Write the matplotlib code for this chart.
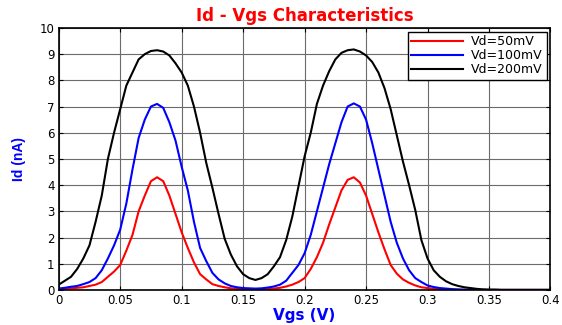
import matplotlib
matplotlib.use("Agg")
import matplotlib.pyplot as plt
import numpy as np

# Vgs sample grid (V), step 5 mV
vgs = np.round(np.arange(81) * 0.005, 3)

# Id (nA) for each drain voltage
id_50mv = [0.02, 0.04, 0.06, 0.08, 0.10, 0.15, 0.20, 0.30, 0.50, 0.70,
           0.95, 1.50, 2.10, 3.00, 3.60, 4.15, 4.30, 4.15, 3.60, 2.90,
           2.20, 1.60, 1.05, 0.60, 0.40, 0.22, 0.15, 0.10, 0.06, 0.04,
           0.03, 0.02, 0.02, 0.02, 0.03, 0.05, 0.08, 0.13, 0.20, 0.30,
           0.45, 0.80, 1.25, 1.80, 2.50, 3.15, 3.80, 4.20, 4.30, 4.10,
           3.60, 2.90, 2.20, 1.55, 0.95, 0.62, 0.40, 0.27, 0.17, 0.10,
           0.07, 0.04, 0.02, 0.01, 0, 0, 0, 0, 0, 0,
           0, 0, 0, 0, 0, 0, 0, 0, 0, 0,
           0]
id_100mv = [0.05, 0.08, 0.12, 0.15, 0.22, 0.30, 0.45, 0.75, 1.20, 1.70,
            2.30, 3.30, 4.60, 5.80, 6.50, 7.00, 7.10, 6.95, 6.40, 5.70,
            4.70, 3.80, 2.60, 1.60, 1.10, 0.65, 0.40, 0.25, 0.15, 0.10,
            0.07, 0.06, 0.05, 0.06, 0.09, 0.13, 0.20, 0.35, 0.65, 0.95,
            1.40, 2.10, 3.00, 3.90, 4.80, 5.60, 6.40, 7.00, 7.12, 7.00,
            6.50, 5.60, 4.60, 3.60, 2.60, 1.80, 1.20, 0.75, 0.45, 0.30,
            0.17, 0.11, 0.07, 0.05, 0.03, 0.02, 0.01, 0.01, 0, 0,
            0, 0, 0, 0, 0, 0, 0, 0, 0, 0,
            0]
id_200mv = [0.20, 0.35, 0.50, 0.80, 1.20, 1.70, 2.60, 3.60, 5.00, 6.00,
            6.90, 7.80, 8.30, 8.80, 9.00, 9.12, 9.15, 9.10, 8.95, 8.65,
            8.30, 7.80, 7.00, 6.00, 4.85, 3.90, 2.90, 1.95, 1.35, 0.90,
            0.60, 0.45, 0.38, 0.45, 0.60, 0.90, 1.25, 1.90, 2.80, 3.95,
            5.10, 6.00, 7.10, 7.80, 8.35, 8.80, 9.05, 9.15, 9.18, 9.10,
            8.95, 8.70, 8.30, 7.70, 6.90, 5.90, 4.90, 4.00, 3.05, 1.90,
            1.20, 0.75, 0.50, 0.33, 0.22, 0.15, 0.10, 0.07, 0.04, 0.02,
            0.01, 0.01, 0, 0, 0, 0, 0, 0, 0, 0,
            0]

labels = ["Vd=50mV", "Vd=100mV", "Vd=200mV"]
colors = ["#ff0000", "#0000ff", "#000000"]

plt.rcParams['font.family'] = ['DejaVu Sans']

fig = plt.figure(figsize=(5.62, 3.25), dpi=100)
ax = fig.add_axes([0.1045, 0.108, 0.875, 0.806])

for series, lab, col in zip([id_50mv, id_100mv, id_200mv], labels, colors):
    ax.plot(vgs, series, color=col, lw=1.5, label=lab)

ax.set_xlim(0, 0.4)
ax.set_ylim(0, 10)
ax.set_xticks([0, 0.05, 0.1, 0.15, 0.2, 0.25, 0.3, 0.35, 0.4])
ax.set_xticklabels(["0", "0.05", "0.1", "0.15", "0.2", "0.25", "0.3", "0.35", "0.4"])
ax.set_yticks(range(0, 11))
ax.grid(True, color='0.42', lw=0.8)
ax.set_axisbelow(True)
ax.tick_params(direction='in', length=3, width=0.8, labelsize=8.5,
               top=True, right=True, colors='black', pad=3)
for sp in ax.spines.values():
    sp.set_linewidth(1.2)

ax.set_title("Id - Vgs Characteristics", color='#ff0000', fontsize=12,
             fontweight='bold', pad=5)
ax.set_xlabel("Vgs (V)", color='#0000ff', fontsize=11, fontweight='bold', labelpad=1)
ax.set_ylabel("Id (nA)", color='#0000ff', fontsize=10, fontweight='bold',
              family='Liberation Sans', labelpad=10)

leg = ax.legend(loc='upper right', fontsize=9, fancybox=False, framealpha=1,
                edgecolor='black', handlelength=4.1, borderaxespad=0.3,
                labelspacing=0.08, borderpad=0.3, handletextpad=0.7)
leg.get_frame().set_linewidth(1.0)

fig.savefig("out.png", dpi=100)
